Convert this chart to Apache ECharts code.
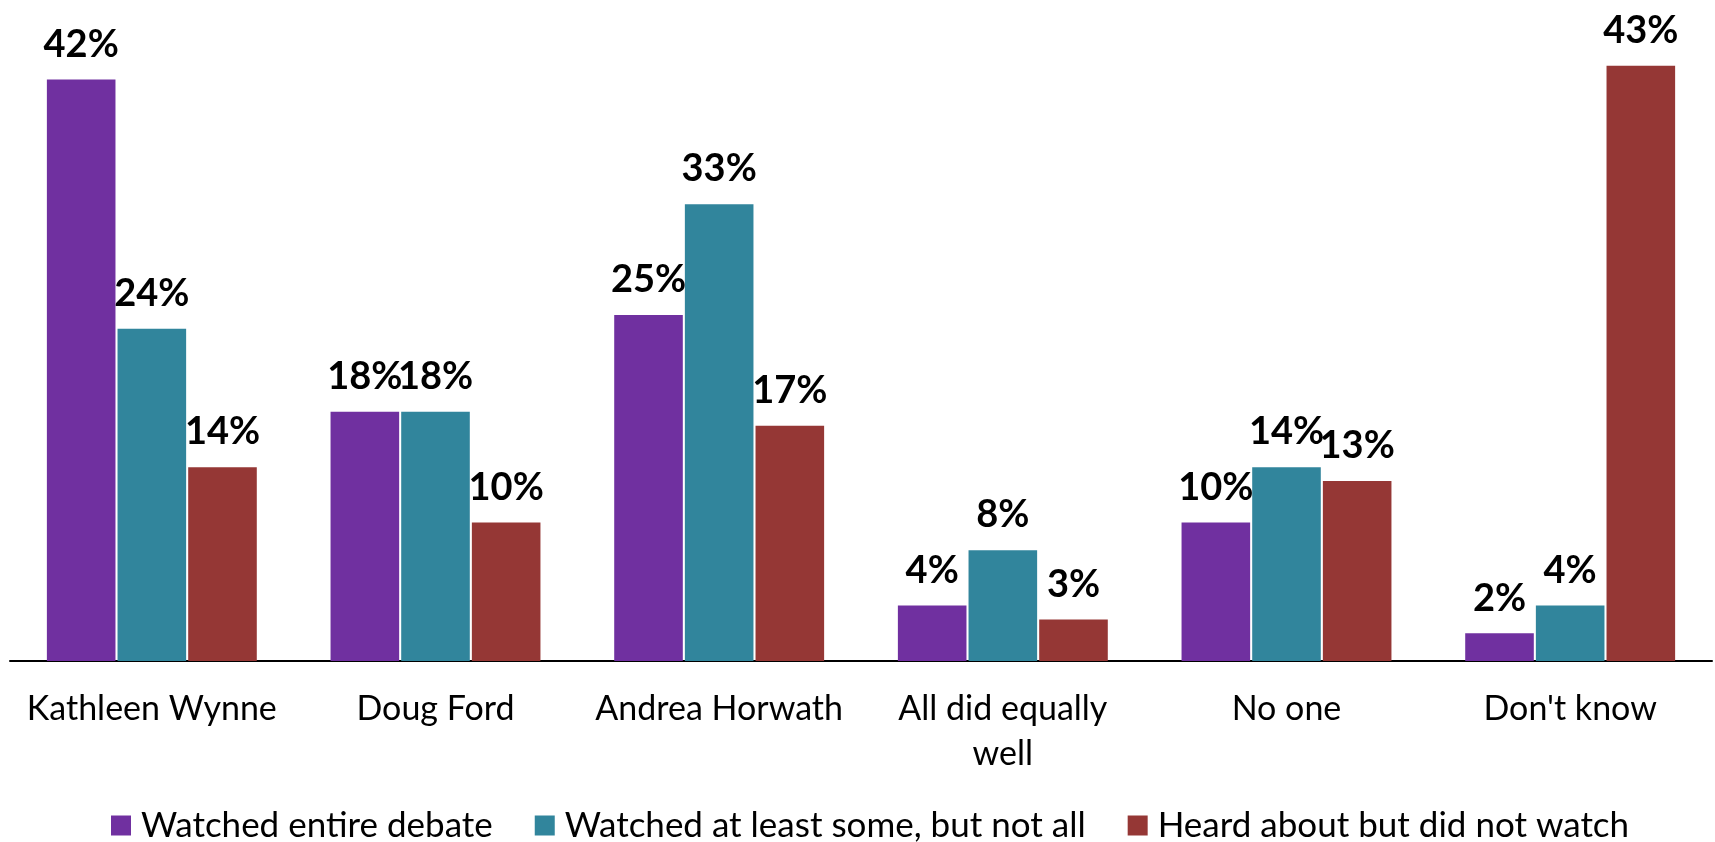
<!DOCTYPE html>
<html>
<head>
<meta charset="utf-8">
<script src="https://cdn.jsdelivr.net/npm/echarts@6/dist/echarts.min.js"></script>
<style>
  html, body { margin: 0; padding: 0; background: #fff; }
  #chart { width: 1715px; height: 842px; }
</style>
</head>
<body>
<div id="chart"></div>
<script>
// Who did the best job in the debate, by how much of it respondents saw (%)
const categories = ['Kathleen Wynne', 'Doug Ford', 'Andrea Horwath', 'All did equally\nwell', 'No one', "Don't know"];
const seriesNames = ['Watched entire debate', 'Watched at least some, but not all', 'Heard about but did not watch'];
const watchedEntire = [42, 18, 25, 4, 10, 2];
const watchedSome = [24, 18, 33, 8, 14, 4];
const heardNotWatched = [14, 10, 17, 3, 13, 43];
const seriesColors = ['#7030A0', '#31859C', '#953735'];

const FONT = 'Lato';

const seriesValues = [watchedEntire, watchedSome, heardNotWatched];

const chart = echarts.init(document.getElementById('chart'), null, { renderer: 'canvas' });

chart.setOption({
  animation: false,
  backgroundColor: '#ffffff',
  textStyle: { fontFamily: FONT },
  grid: { left: 10, right: 3, top: 38, bottom: 181, containLabel: false },
  legend: {
    left: 106,
    top: 803,
    itemWidth: 20,
    itemHeight: 20,
    itemGap: 42,
    icon: 'rect',
    textStyle: { fontFamily: FONT, fontSize: 35, color: '#000', padding: [0, 0, 0, 5] },
    data: seriesNames
  },
  xAxis: {
    type: 'category',
    data: categories,
    axisLine: { lineStyle: { color: '#000', width: 2 } },
    axisTick: { show: false },
    axisLabel: {
      color: '#000',
      fontFamily: FONT,
      fontSize: 34,
      lineHeight: 45,
      margin: 26,
      interval: 0
    }
  },
  yAxis: {
    type: 'value',
    min: 0,
    max: 45,
    show: false,
    splitLine: { show: false }
  },
  series: seriesValues.map((vals, i) => ({
    name: seriesNames[i],
    type: 'bar',
    data: vals,
    barCategoryGap: '26%',
    barGap: '3%',
    itemStyle: { color: seriesColors[i] },
    label: {
      show: true,
      position: 'top',
      distance: 16,
      formatter: '{c}%',
      color: '#000',
      fontFamily: FONT,
      fontWeight: 'bold',
      fontSize: 38
    }
  }))
});
</script>
</body>
</html>
